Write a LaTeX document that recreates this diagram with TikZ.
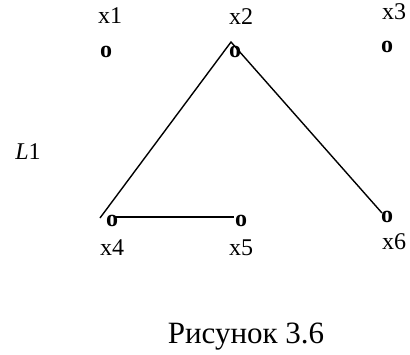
\documentclass[tikz,border=0pt]{standalone}
\usepackage{fontspec}
\setmainfont{Liberation Serif}
\begin{document}
\begin{tikzpicture}[x=1pt,y=-1pt,
  lbl/.style={inner sep=0pt,font=\fontsize{24}{24}\selectfont},
  pt/.style={inner sep=0pt,font=\fontsize{24}{24}\selectfont\bfseries},
  edge/.style={line width=1.4pt,black}]
\useasboundingbox (0,0) rectangle (410,354);
% labels
\node[lbl] (l1) at (110,16) {x1};
\node[lbl] (l2) at (241,17) {x2};
\node[lbl] (l3) at (394,12) {x3};
\node[lbl] (l4) at (112,248) {x4};
\node[lbl] (l5) at (241,248) {x5};
\node[lbl] (l6) at (394,242) {x6};
\node[inner sep=0pt,font=\fontsize{24}{24}\selectfont] (L) at (28,152) {\textit{L}1};
% points
\node[pt] (p1) at (106,52) {o};
\node[pt] (p2) at (235,52) {o};
\node[pt] (p3) at (387,47) {o};
\node[pt] (p4) at (112,221) {o};
\node[pt] (p5) at (241,221) {o};
\node[pt] (p6) at (387,217) {o};
% line ends
\coordinate (a2) at (231,42);
\coordinate (a4) at (100,218);
\coordinate (a6) at (382,213);
\coordinate (h4) at (114,217);
\coordinate (h5) at (234,217);
\draw[edge] (a4) -- (a2) -- (a6);
\draw[edge] (h4) -- (h5);
% caption
\node[inner sep=0pt,anchor=base,font=\fontsize{31}{31}\selectfont] (cap) at (246,343) {Рисунок 3.6};
\end{tikzpicture}
\end{document}
